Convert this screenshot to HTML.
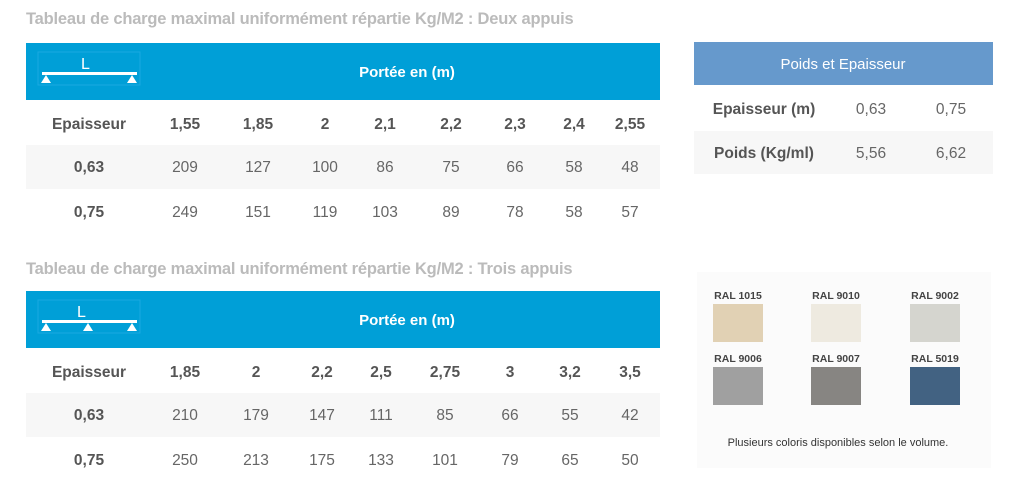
<!DOCTYPE html>
<html><head><meta charset="utf-8"><style>
body{margin:0;width:1024px;height:498px;background:#fff;position:relative;overflow:hidden;font-family:"Liberation Sans",Arial,sans-serif;}
div{position:absolute;}
.t{color:#bbb;font-size:16.5px;left:26px;font-weight:bold;letter-spacing:-0.2px}
.blue{background:#009fd7;left:26px;width:634px}
.gray{background:#f7f7f7;}
.c{width:100px;text-align:center;font-size:15.5px;color:#666;margin-left:-50px;line-height:20px;margin-top:-9px}
.b{font-weight:bold;color:#555}
.w{color:#fff;font-weight:bold;font-size:15px}
.sw{width:50px;height:38px}
.lab{width:80px;margin-left:-40px;text-align:center;font-size:10.5px;font-weight:bold;color:#444}
</style></head><body>
<div class="t" style="top:10px">Tableau de charge maximal uniformément répartie Kg/M2 : Deux appuis</div>
<div class="blue" style="top:43px;height:57px"></div>
<svg style="position:absolute;left:37px;top:51px" width="105" height="36">
<rect x="1" y="1" width="102" height="33" fill="none" stroke="#1aaae0" stroke-width="1"/>
<text x="44" y="18" fill="#fff" font-size="16" font-family="Liberation Sans">L</text>
<rect x="5" y="21" width="95" height="3" fill="#fff"/>
<polygon points="9,24 4,32 14,32" fill="#fff"/><polygon points="95,24 90,32 100,32" fill="#fff"/>
</svg>
<div class="c w" style="left:407px;top:72px;width:200px;margin-left:-100px">Portée en (m)</div>
<div class="gray" style="left:26px;width:634px;top:145px;height:44px"></div>
<div class="c b" style="left:89px;top:124px">Epaisseur</div>
<div class="c b" style="left:185px;top:124px">1,55</div><div class="c b" style="left:258px;top:124px">1,85</div><div class="c b" style="left:325px;top:124px">2</div><div class="c b" style="left:385px;top:124px">2,1</div><div class="c b" style="left:451px;top:124px">2,2</div><div class="c b" style="left:515px;top:124px">2,3</div><div class="c b" style="left:574px;top:124px">2,4</div><div class="c b" style="left:630px;top:124px">2,55</div>
<div class="c b" style="left:89px;top:167px">0,63</div>
<div class="c" style="left:185px;top:167px">209</div><div class="c" style="left:258px;top:167px">127</div><div class="c" style="left:325px;top:167px">100</div><div class="c" style="left:385px;top:167px">86</div><div class="c" style="left:451px;top:167px">75</div><div class="c" style="left:515px;top:167px">66</div><div class="c" style="left:574px;top:167px">58</div><div class="c" style="left:630px;top:167px">48</div>
<div class="c b" style="left:89px;top:212px">0,75</div>
<div class="c" style="left:185px;top:212px">249</div><div class="c" style="left:258px;top:212px">151</div><div class="c" style="left:325px;top:212px">119</div><div class="c" style="left:385px;top:212px">103</div><div class="c" style="left:451px;top:212px">89</div><div class="c" style="left:515px;top:212px">78</div><div class="c" style="left:574px;top:212px">58</div><div class="c" style="left:630px;top:212px">57</div>

<div class="t" style="top:260px">Tableau de charge maximal uniformément répartie Kg/M2 : Trois appuis</div>
<div class="blue" style="top:291px;height:57px"></div>
<svg style="position:absolute;left:37px;top:299px" width="105" height="36">
<rect x="1" y="1" width="102" height="33" fill="none" stroke="#1aaae0" stroke-width="1"/>
<text x="40" y="18" fill="#fff" font-size="16" font-family="Liberation Sans">L</text>
<rect x="5" y="21" width="95" height="3" fill="#fff"/>
<polygon points="9,24 4,32 14,32" fill="#fff"/><polygon points="51,24 46,32 56,32" fill="#fff"/><polygon points="95,24 90,32 100,32" fill="#fff"/>
</svg>
<div class="c w" style="left:407px;top:320px;width:200px;margin-left:-100px">Portée en (m)</div>
<div class="gray" style="left:26px;width:634px;top:393px;height:44px"></div>
<div class="c b" style="left:89px;top:372px">Epaisseur</div>
<div class="c b" style="left:185px;top:372px">1,85</div><div class="c b" style="left:256px;top:372px">2</div><div class="c b" style="left:322px;top:372px">2,2</div><div class="c b" style="left:381px;top:372px">2,5</div><div class="c b" style="left:445px;top:372px">2,75</div><div class="c b" style="left:510px;top:372px">3</div><div class="c b" style="left:570px;top:372px">3,2</div><div class="c b" style="left:630px;top:372px">3,5</div>
<div class="c b" style="left:89px;top:415px">0,63</div>
<div class="c" style="left:185px;top:415px">210</div><div class="c" style="left:256px;top:415px">179</div><div class="c" style="left:322px;top:415px">147</div><div class="c" style="left:381px;top:415px">111</div><div class="c" style="left:445px;top:415px">85</div><div class="c" style="left:510px;top:415px">66</div><div class="c" style="left:570px;top:415px">55</div><div class="c" style="left:630px;top:415px">42</div>
<div class="c b" style="left:89px;top:460px">0,75</div>
<div class="c" style="left:185px;top:460px">250</div><div class="c" style="left:256px;top:460px">213</div><div class="c" style="left:322px;top:460px">175</div><div class="c" style="left:381px;top:460px">133</div><div class="c" style="left:445px;top:460px">101</div><div class="c" style="left:510px;top:460px">79</div><div class="c" style="left:570px;top:460px">65</div><div class="c" style="left:630px;top:460px">50</div>

<div style="left:694px;top:42px;width:299px;height:43px;background:#6699cc"></div>
<div class="c" style="left:843px;top:64px;width:200px;margin-left:-100px;color:#fff;font-size:15px">Poids et Epaisseur</div>
<div class="gray" style="left:694px;top:131px;width:299px;height:43px"></div>
<div class="c b" style="left:764px;top:109px;width:140px;margin-left:-70px">Epaisseur (m)</div>
<div class="c" style="left:871px;top:109px">0,63</div><div class="c" style="left:951px;top:109px">0,75</div>
<div class="c b" style="left:764px;top:153px;width:140px;margin-left:-70px">Poids (Kg/ml)</div>
<div class="c" style="left:871px;top:153px">5,56</div><div class="c" style="left:951px;top:153px">6,62</div>

<div style="left:697px;top:272px;width:294px;height:196px;background:#fbfbfb"></div>
<div class="lab" style="left:738px;top:290px">RAL 1015</div>
<div class="lab" style="left:836px;top:290px">RAL 9010</div>
<div class="lab" style="left:935px;top:290px">RAL 9002</div>
<div class="sw" style="left:713px;top:304px;background:#e1d1b4"></div>
<div class="sw" style="left:811px;top:304px;background:#eeeae0"></div>
<div class="sw" style="left:910px;top:304px;background:#d5d5cf"></div>
<div class="lab" style="left:738px;top:353px">RAL 9006</div>
<div class="lab" style="left:836px;top:353px">RAL 9007</div>
<div class="lab" style="left:935px;top:353px">RAL 5019</div>
<div class="sw" style="left:713px;top:367px;background:#a0a0a0"></div>
<div class="sw" style="left:811px;top:367px;background:#878582"></div>
<div class="sw" style="left:910px;top:367px;background:#426282"></div>
<div style="left:697px;top:437px;width:282px;text-align:center;font-size:11px;color:#333">Plusieurs coloris disponibles selon le volume.</div>
</body></html>
